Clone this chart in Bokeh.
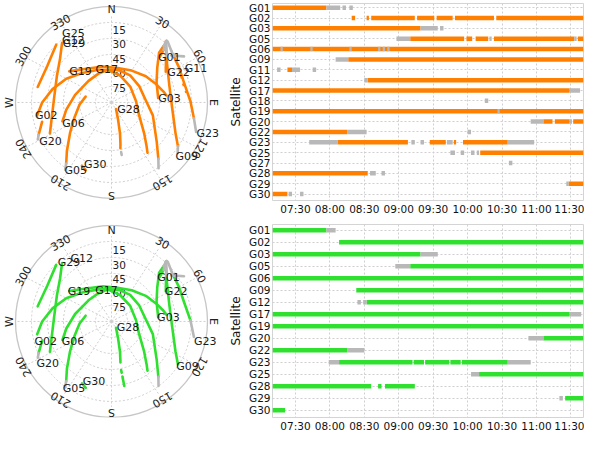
import math
from bokeh.plotting import figure
from bokeh.models import Range1d, FixedTicker
from bokeh.layouts import row, column
from bokeh.embed import file_html
from bokeh.resources import INLINE
from bokeh.core.properties import value

FONT = "DejaVu Sans"
ORANGE = "#ff8000"
GREEN = "#2fe02f"
GRAY = "#b8b8b8"
GRID = "#cfcfcf"

# ---------------- sky plot: satellite tracks (azimuth deg, elevation deg) ----------------
# segment states: u = used (coloured), n = tracked / not used (gray), d = sparse used, . = nothing
G01_az = [44, 42, 39, 49, 55]
G01_el = [25, 17, 8, 16, 7]
G01_st = ("un.n", "un.n")
G02_az = [259, 270, 284, 300, 318, 340, 354]
G02_el = [19, 25, 33, 41, 49, 54, 56]
G02_st = ("uuuuuu", "uuuuuu")
G03_az = [84, 64, 50, 41, 40, 39]
G03_el = [46, 43, 34, 22, 14, 8]
G03_st = ("uuuun", "uuuun")
G05_az = [212, 214, 220, 231, 246, 266, 284]
G05_el = [8, 14, 25, 40, 52, 60, 65]
G05_st = ("nuuuuu", "nuuuuu")
G06_az = [247, 260, 283, 316, 337, 354, 16, 47, 86, 117, 136, 144, 147]
G06_el = [40, 47, 55, 59, 58, 56, 61, 66, 67, 61, 46, 34, 28]
G06_st = ("uuuuuuuuuuuu", "uuuuuuuuuuuu")
G09_az = [130, 126, 118, 95, 72, 52, 44, 39]
G09_el = [9, 13, 22, 33, 33, 24, 16, 9]
G09_st = ("nuuuuuu", ".uuuuuu")
G11_az = [67, 74, 82]
G11_el = [19, 20, 19]
G11_st = ("dd", "..")
G12_az = [323, 313, 298, 275, 241]
G12_el = [13, 24, 32, 36, 24]
G12_st = ("uuuu", "uuuu")
G17_az = [357, 12, 32, 57, 85, 109, 134, 143, 147]
G17_el = [56, 56, 57, 59, 58, 49, 31, 17, 9]
G17_st = ("uuuuuuun", "uuuuuuun")
G19_az = [309, 326, 348, 9, 30, 50, 66, 77, 82]
G19_el = [39, 48, 52, 54, 52, 48, 44, 40, 38]
G19_st = ("uuuuuuuu", "uuuuuuuu")
G20_az = [241, 244, 248, 253]
G20_el = [11, 14, 18, 22]
G20_st = ("nuu", "nuu")
G22_az = [58, 47, 39]
G22_el = [30, 20, 9]
G22_st = ("un", "un")
G23_az = [111, 102, 89, 73, 60, 49, 40]
G23_el = [5, 11, 16, 19, 17, 14, 8]
G23_st = ("nuuuun", ".nuuun")
G25_az = [319, 302, 283]
G25_el = [11, 19, 19]
G25_st = ("uu", "uu")
G28_az = [148, 161, 166, 169, 170, 170, 170, 170, 170]
G28_el = [82, 71, 57, 46, 42, 38, 35, 31, 21]
G28_st = ("uuuu.n..", "uuu..u.u")
G30_az = [203, 199]
G30_el = [19, 16]
G30_st = ("u", "u")

tracks = [
    (G01_az, G01_el, G01_st), (G02_az, G02_el, G02_st), (G03_az, G03_el, G03_st),
    (G05_az, G05_el, G05_st), (G06_az, G06_el, G06_st), (G09_az, G09_el, G09_st),
    (G11_az, G11_el, G11_st), (G12_az, G12_el, G12_st), (G17_az, G17_el, G17_st),
    (G19_az, G19_el, G19_st), (G20_az, G20_el, G20_st), (G22_az, G22_el, G22_st),
    (G23_az, G23_el, G23_st), (G25_az, G25_el, G25_st), (G28_az, G28_el, G28_st),
    (G30_az, G30_el, G30_st),
]

# satellite name labels on the sky plots (azimuth, elevation)
top_lab_name = ["G25", "G12", "G29", "G19", "G17", "G01", "G22", "G11", "G03",
                "G02", "G06", "G20", "G28", "G23", "G09", "G05", "G30"]
top_lab_az = [327, 324, 323, 309, 336, 43, 59, 63, 84, 259, 245, 239, 143, 112, 133, 212, 202]
top_lab_el = [5, 11, 14, 39, 53, 26, 29, 13, 46, 17, 39, 11, 81, 4, 8, 7, 21]

bot_lab_name = ["G12", "G29", "G19", "G17", "G01", "G22", "G03", "G02", "G06",
                "G20", "G28", "G23", "G09", "G05", "G30"]
bot_lab_az = [330, 321, 308, 335, 43, 58, 84, 254, 246, 238, 143, 105, 128, 213, 203]
bot_lab_el = [13, 10, 38, 54, 27, 31, 47, 15, 39, 7, 82, 10, 13, 6, 21]

elev_rings = [15, 30, 45, 60, 75]
az_ticks = [0, 30, 60, 90, 120, 150, 180, 210, 240, 270, 300, 330]
az_tick_labels = ["N", "30", "60", "E", "120", "150", "S", "210", "240", "W", "300", "330"]

# ---------------- timelines ----------------
time_start, time_end = "07:10", "11:41"
time_ticks = ["07:30", "08:00", "08:30", "09:00", "09:30", "10:00", "10:30", "11:00", "11:30"]

top_sats = ["G01", "G02", "G03", "G05", "G06", "G09", "G11", "G12", "G17", "G18",
            "G19", "G20", "G22", "G23", "G25", "G27", "G28", "G29", "G30"]
top_obs = [
    "G01 07:10 07:57 u", "G01 07:57 08:09 n", "G01 08:11 08:14 n", "G01 08:17 08:20 n",
    "G02 08:19 08:22 u", "G02 08:32 08:34 u", "G02 08:36 09:14 u", "G02 09:16 09:31 u",
    "G02 09:33 09:47 u", "G02 09:49 10:23 u", "G02 10:25 11:41 u",
    "G03 07:10 09:19 u", "G03 09:19 09:34 n", "G03 09:36 09:39 n",
    "G05 08:58 09:10 n", "G05 09:10 09:57 u", "G05 09:59 10:04 u", "G05 10:07 10:18 u",
    "G05 10:19 10:21 n", "G05 10:23 11:33 u", "G05 11:33 11:35 n", "G05 11:36 11:41 u",
    "G06 07:10 11:41 u", "G06 07:17 07:19 n", "G06 07:43 07:45 n", "G06 08:17 08:19 n",
    "G06 08:42 08:44 n", "G06 08:46 08:48 n", "G06 08:50 08:52 n",
    "G09 08:05 08:16 n", "G09 08:16 11:41 u",
    "G11 07:14 07:17 n", "G11 07:23 07:27 u", "G11 07:27 07:34 n", "G11 07:45 07:48 n",
    "G12 08:30 08:33 n", "G12 08:33 11:41 u",
    "G17 07:10 11:29 u", "G17 11:29 11:38 n",
    "G18 10:15 10:18 n",
    "G19 07:10 11:41 u", "G19 10:26 10:28 n",
    "G20 10:55 11:06 n", "G20 11:06 11:14 u", "G20 11:16 11:29 u", "G20 11:29 11:31 n",
    "G20 11:32 11:41 u",
    "G22 07:10 08:15 u", "G22 08:15 08:32 n", "G22 10:00 10:03 n",
    "G23 07:42 08:07 n", "G23 08:07 09:08 u", "G23 09:11 09:14 n", "G23 09:19 09:22 n",
    "G23 09:27 09:41 u", "G23 09:42 09:47 n", "G23 09:48 09:50 u", "G23 09:56 10:35 u",
    "G23 10:35 10:58 n",
    "G25 09:45 09:49 n", "G25 09:54 09:57 n", "G25 10:03 10:06 n", "G25 10:08 10:10 n",
    "G25 10:11 11:41 u",
    "G27 10:36 10:39 n",
    "G28 07:10 08:33 u", "G28 08:35 08:40 n", "G28 08:45 08:48 n",
    "G29 11:26 11:28 n", "G29 11:28 11:41 u",
    "G30 07:10 07:23 u", "G30 07:24 07:27 n", "G30 07:34 07:37 n",
]

bot_sats = ["G01", "G02", "G03", "G05", "G06", "G09", "G12", "G17", "G19", "G20",
            "G22", "G23", "G25", "G28", "G29", "G30"]
bot_obs = [
    "G01 07:10 07:57 u", "G01 07:57 08:05 n",
    "G02 08:08 11:41 u",
    "G03 07:10 09:19 u", "G03 09:19 09:34 n",
    "G05 08:57 09:10 n", "G05 09:10 11:41 u",
    "G06 07:10 11:41 u",
    "G09 08:23 11:41 u",
    "G12 08:24 08:27 n", "G12 08:29 08:32 n", "G12 08:32 11:41 u",
    "G17 07:10 11:29 u", "G17 11:29 11:39 n",
    "G19 07:10 11:41 u",
    "G20 10:53 11:06 n", "G20 11:06 11:41 u",
    "G22 07:10 08:15 u", "G22 08:15 08:30 n",
    "G23 07:59 08:08 n", "G23 08:08 09:12 u", "G23 09:13 09:22 u", "G23 09:23 09:44 u",
    "G23 09:45 09:54 u", "G23 09:55 10:35 u", "G23 10:35 10:55 n",
    "G25 10:03 10:10 n", "G25 10:10 11:41 u",
    "G28 07:10 08:36 u", "G28 08:42 08:45 u", "G28 08:48 09:14 u",
    "G29 11:20 11:23 n", "G29 11:25 11:41 u",
    "G30 07:10 07:21 u",
]

# ---------------- layout constants ----------------
W_SKY, W_TL, H_ROW = 226, 358, 217
R_PX = 96.0
K = R_PX / 90.0
SKY_CX, SKY_CY = 111.0, 109.0
LAB_R = 102.0 / K


def tmin(s):
    h, m = s.split(":")
    return int(h) * 60 + int(m)


def polar_xy(az, el):
    r = 90.0 - el
    a = math.radians(az)
    return r * math.sin(a), r * math.cos(a)


def make_sky(color, panel, lab_name, lab_az, lab_el):
    p = figure(width=W_SKY, height=H_ROW,
               x_range=Range1d(-SKY_CX / K, (W_SKY - SKY_CX) / K),
               y_range=Range1d(-(H_ROW - SKY_CY) / K, SKY_CY / K),
               x_axis_location=None, y_axis_location=None,
               output_backend="svg", toolbar_location=None, min_border=0)
    p.grid.visible = False
    p.outline_line_color = None

    n = len(elev_rings)
    p.circle(x=[0] * n, y=[0] * n, radius=[90 - e for e in elev_rings], fill_color=None,
             line_color=GRID, line_dash="2 2", line_width=1)
    sx = [90 * math.sin(math.radians(a)) for a in az_ticks]
    sy = [90 * math.cos(math.radians(a)) for a in az_ticks]
    p.segment(x0=[0] * len(az_ticks), y0=[0] * len(az_ticks), x1=sx, y1=sy,
              line_color=GRID, line_dash="2 2", line_width=1)
    p.circle(x=[0], y=[0], radius=[90], fill_color=None, line_color="#c6c6c6", line_width=1.3)

    p.text(x=[0] * n, y=[90 - e for e in elev_rings], text=[str(e) for e in elev_rings],
           text_font=value(FONT), text_font_size="10.5px", text_align="left",
           text_baseline="middle", x_offset=1, text_color="#222222")

    lx = [LAB_R * math.sin(math.radians(a)) for a in az_ticks]
    ly = [LAB_R * math.cos(math.radians(a)) for a in az_ticks]
    p.text(x=lx, y=ly, text=az_tick_labels, angle=[-math.radians(a) for a in az_ticks],
           text_font=value(FONT), text_font_size="11px", text_align="center",
           text_baseline="middle", text_color="#222222")

    groups = {"u": ([], []), "n": ([], []), "d": ([], [])}
    for az, el, states in tracks:
        st = states[panel]
        pts = [polar_xy(a, e) for a, e in zip(az, el)]
        i = 0
        while i < len(st):
            c = st[i]
            j = i
            while j < len(st) and st[j] == c:
                j += 1
            if c in groups:
                groups[c][0].append([q[0] for q in pts[i:j + 1]])
                groups[c][1].append([q[1] for q in pts[i:j + 1]])
            i = j
    p.multi_line(xs=groups["u"][0], ys=groups["u"][1], line_color=color, line_width=2.6,
                 line_cap="round", line_join="round")
    p.multi_line(xs=groups["d"][0], ys=groups["d"][1], line_color=color, line_width=2.6,
                 line_dash="3 5")
    p.multi_line(xs=groups["n"][0], ys=groups["n"][1], line_color=GRAY, line_width=2.6,
                 line_cap="round", line_join="round")

    pts = [polar_xy(a, e) for a, e in zip(lab_az, lab_el)]
    p.text(x=[q[0] for q in pts], y=[q[1] for q in pts], text=lab_name,
           text_font=value(FONT), text_font_size="11px", text_align="left",
           text_baseline="middle", text_color="#1a1a1a")
    return p


def make_timeline(sats, obs, color, border_top, border_bottom, pad_top, pad_bottom):
    n = len(sats)
    p = figure(width=W_TL, height=H_ROW,
               x_range=Range1d(tmin(time_start), tmin(time_end)),
               y_range=Range1d(n - 1 + pad_bottom, -pad_top),
               output_backend="svg", toolbar_location=None,
               min_border_left=38, min_border_right=1,
               min_border_top=border_top, min_border_bottom=border_bottom)
    p.outline_line_color = "#d4d4d4"
    tick_vals = [tmin(t) for t in time_ticks]
    p.xaxis.ticker = FixedTicker(ticks=tick_vals)
    p.xaxis.major_label_overrides = dict(zip(tick_vals, time_ticks))
    p.yaxis.ticker = FixedTicker(ticks=list(range(n)))
    p.yaxis.major_label_overrides = {i: s for i, s in enumerate(sats)}
    p.xgrid.ticker = FixedTicker(ticks=tick_vals)
    p.ygrid.ticker = FixedTicker(ticks=list(range(n)))
    for g in (p.xgrid, p.ygrid):
        g.grid_line_color = GRID
        g.grid_line_dash = "2 2"
    for ax in (p.xaxis, p.yaxis):
        ax.axis_line_color = None
        ax.major_tick_line_color = None
        ax.minor_tick_line_color = None
        ax.major_tick_out = 0
        ax.major_tick_in = 0
        ax.minor_tick_out = 0
        ax.major_label_text_font = FONT
        ax.major_label_text_font_size = "10.5px"
        ax.major_label_text_color = "#111111"
        ax.major_label_standoff = 2
    p.yaxis.axis_label = "Satellite"
    p.yaxis.axis_label_text_font = FONT
    p.yaxis.axis_label_text_font_size = "12px"
    p.yaxis.axis_label_text_font_style = "normal"
    p.yaxis.axis_label_text_color = "#111111"
    p.yaxis.axis_label_standoff = 3

    idx = {s: i for i, s in enumerate(sats)}
    for state, col in (("u", color), ("n", GRAY)):
        x0, x1, yy = [], [], []
        for rec in obs:
            s, a, b, c = rec.split()
            if c == state:
                x0.append(tmin(a))
                x1.append(tmin(b))
                yy.append(idx[s])
        p.segment(x0=x0, y0=yy, x1=x1, y1=yy, line_color=col, line_width=4.5, line_cap="butt")
    return p


sky_top = make_sky(ORANGE, 0, top_lab_name, top_lab_az, top_lab_el)
sky_bot = make_sky(GREEN, 1, bot_lab_name, bot_lab_az, bot_lab_el)
tl_top = make_timeline(top_sats, top_obs, ORANGE, 3, 15, 0.4, 0.62)
tl_bot = make_timeline(bot_sats, bot_obs, GREEN, 7, 15, 0.47, 0.6)

layout = column(row(sky_top, tl_top), row(sky_bot, tl_bot))
open("out.html", "w").write(file_html(layout, INLINE))
